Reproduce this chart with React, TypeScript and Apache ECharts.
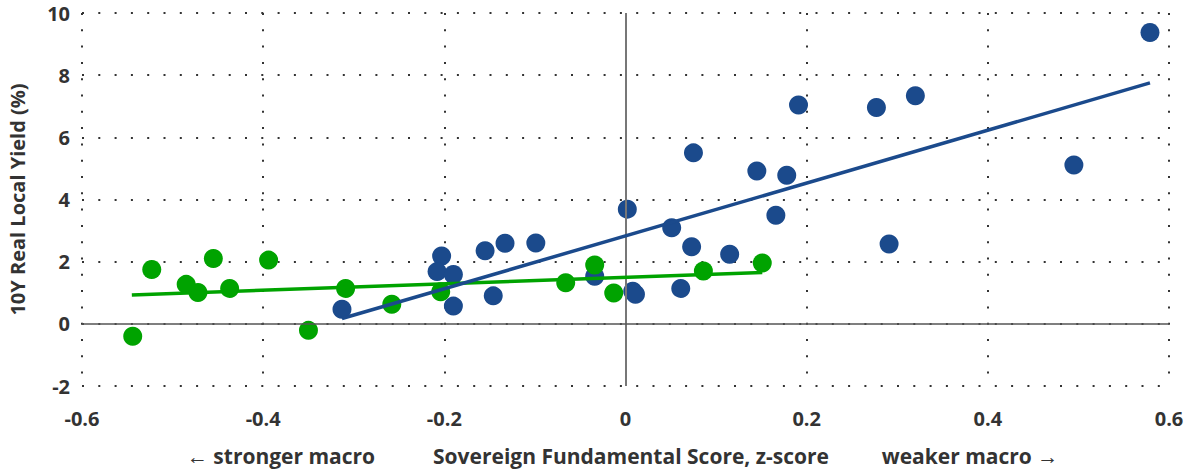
import React, { useEffect, useRef } from "react";
import * as echarts from "echarts";

// Sovereign fundamental score (z-score) vs 10Y real local yield (%)
const blueScores = [
  -0.313, -0.203, -0.208, -0.19, -0.19, -0.155, -0.133, -0.146, -0.099, -0.034,
  0.002, 0.008, 0.011, 0.051, 0.073, 0.061, 0.075, 0.115, 0.145, 0.166, 0.178,
  0.191, 0.277, 0.32, 0.291, 0.495, 0.579,
];
const blueYields = [
  0.47, 2.18, 1.68, 1.59, 0.57, 2.35, 2.59, 0.9, 2.6, 1.53,
  3.69, 1.05, 0.95, 3.09, 2.48, 1.14, 5.5, 2.24, 4.92, 3.49, 4.78,
  7.04, 6.96, 7.34, 2.57, 5.11, 9.37,
];
const greenScores = [
  -0.544, -0.523, -0.485, -0.472, -0.455, -0.437, -0.394, -0.35, -0.309, -0.258,
  -0.204, -0.066, -0.034, -0.013, 0.086, 0.151,
];
const greenYields = [
  -0.4, 1.75, 1.27, 1.01, 2.1, 1.14, 2.05, -0.21, 1.14, 0.63,
  1.03, 1.32, 1.89, 0.99, 1.7, 1.96,
];
// Fitted trend lines: [score, yield] at each end
const blueTrend = [
  [-0.313, 0.17],
  [0.579, 7.75],
];
const greenTrend = [
  [-0.545, 0.93],
  [0.151, 1.65],
];

const xLabels = ["← stronger macro", "Sovereign Fundamental Score, z-score", "weaker macro →"];
const yTitle = "10Y Real Local Yield (%)";

const BLUE = "#1b4a8c";
const GREEN = "#00a300";
const INK = "#333";
const FONT = "'Open Sans', 'Noto Sans', sans-serif";

const zip = (xs: number[], ys: number[]) => xs.map((x, i) => [x, ys[i]]);

export default function App() {
  const ref = useRef<HTMLDivElement>(null);

  useEffect(() => {
    if (!ref.current) return;
    const chart = echarts.init(ref.current, undefined, { renderer: "svg" });
    const gridDots = { color: INK, width: 2, type: [2, 14.3] as number[] };
    const tickFont = { color: INK, fontFamily: FONT, fontWeight: "bold", fontSize: 20 };
    const caption = (text: string, x: number) => ({
      type: "text",
      x,
      y: 456,
      style: {
        text,
        fill: INK,
        font: `bold 21px ${FONT}`,
        align: "center",
        verticalAlign: "middle",
      },
    });
    chart.setOption({
      animation: false,
      backgroundColor: "#fff",
      grid: {
        left: 82,
        right: 18,
        top: 13,
        bottom: 85,
        containLabel: false,
        outerBoundsMode: "none",
      },
      xAxis: {
        type: "value",
        min: -0.6,
        max: 0.6,
        interval: 0.2,
        axisLine: { show: false, onZero: false },
        axisTick: { show: false },
        axisLabel: { margin: 22, ...tickFont },
        splitLine: { show: true, lineStyle: gridDots },
      },
      yAxis: {
        type: "value",
        min: -2,
        max: 10,
        interval: 2,
        name: yTitle,
        nameLocation: "middle",
        nameGap: 55,
        nameTextStyle: { color: INK, fontFamily: FONT, fontWeight: "bold", fontSize: 20 },
        axisLine: { show: false, onZero: false },
        axisTick: { show: false },
        axisLabel: { margin: 12, ...tickFont },
        splitLine: { show: true, lineStyle: gridDots },
      },
      graphic: [caption(xLabels[0], 281), caption(xLabels[1], 631), caption(xLabels[2], 970)],
      series: [
        {
          type: "line",
          data: [],
          silent: true,
          z: 1,
          markLine: {
            silent: true,
            symbol: "none",
            label: { show: false },
            data: [
              { xAxis: 0, lineStyle: { color: "#777", width: 2, type: "solid" } },
              { yAxis: 0, lineStyle: { color: "#555", width: 1.5, type: "solid" } },
            ],
          },
        },
        {
          type: "scatter",
          data: zip(blueScores, blueYields),
          symbolSize: 19,
          itemStyle: { color: BLUE, opacity: 1 },
          z: 3,
        },
        {
          type: "scatter",
          data: zip(greenScores, greenYields),
          symbolSize: 19,
          itemStyle: { color: GREEN, opacity: 1 },
          z: 4,
        },
        {
          type: "line",
          data: greenTrend,
          showSymbol: false,
          lineStyle: { color: GREEN, width: 3.5 },
          z: 5,
        },
        {
          type: "line",
          data: blueTrend,
          showSymbol: false,
          lineStyle: { color: BLUE, width: 3.5 },
          z: 6,
        },
      ],
    });
    return () => chart.dispose();
  }, []);

  return (
    <div
      ref={ref}
      style={{ position: "fixed", left: 0, top: 0, width: 1187, height: 471 }}
    />
  );
}
